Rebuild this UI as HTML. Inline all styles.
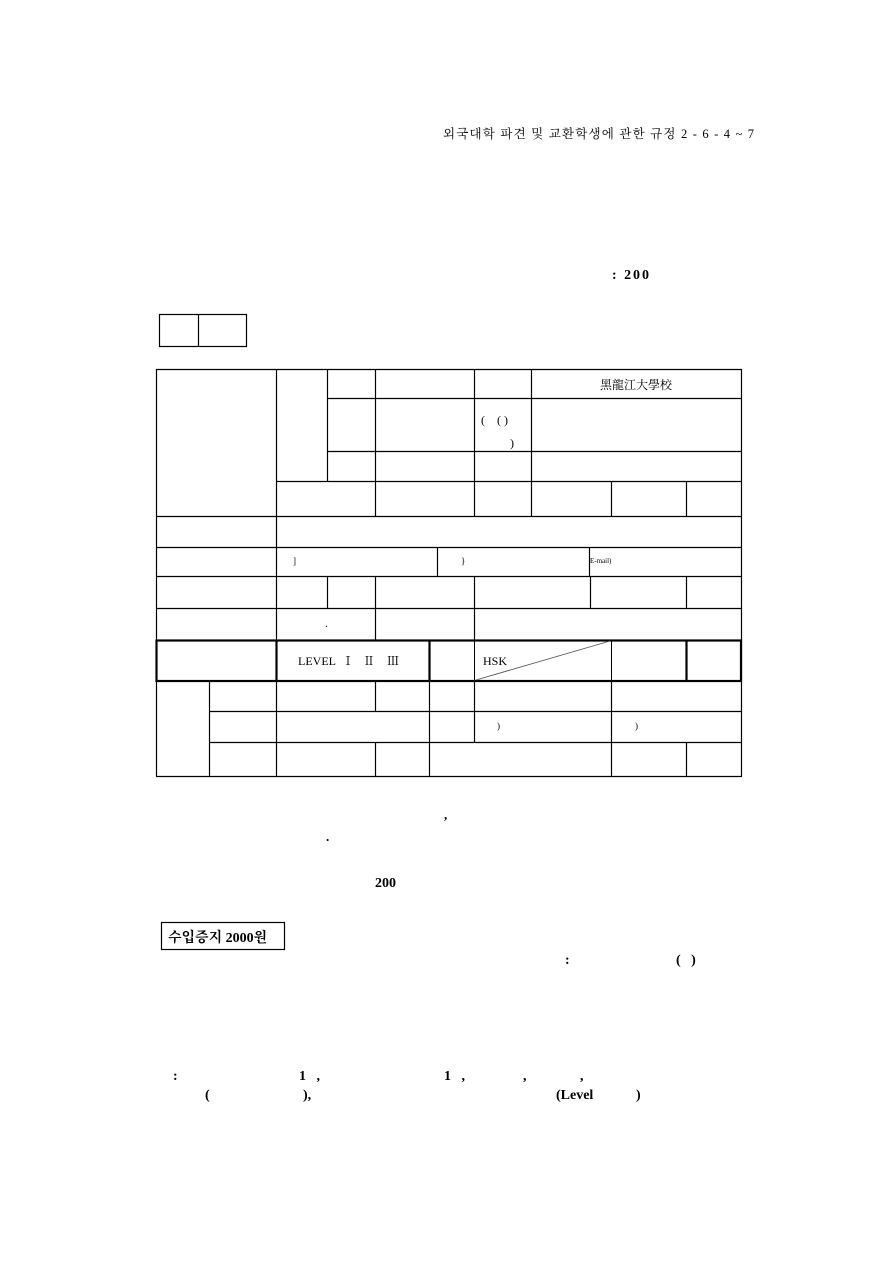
<!DOCTYPE html>
<html><head><meta charset="utf-8"><style>
html,body{margin:0;padding:0;background:#fff;}
svg{display:block;}
text{font-family:"Liberation Serif","Noto Serif CJK SC","Noto Sans CJK KR",serif;fill:#000;}
</style></head><body>
<svg width="893" height="1263" viewBox="0 0 893 1263" xmlns="http://www.w3.org/2000/svg">
<text x="443" y="138" font-size="12.5" textLength="311" lengthAdjust="spacing" font-family="'Liberation Serif','Noto Serif CJK SC',serif">외국대학 파견 및 교환학생에 관한 규정 2 - 6 - 4 ~ 7</text>
<text x="612" y="279" font-size="14" font-weight="bold" textLength="37" lengthAdjust="spacing">: 200</text>
<g stroke="#000" stroke-width="1.2" fill="none">
<rect x="159.5" y="314.5" width="87" height="32"/>
<line x1="198.5" y1="314" x2="198.5" y2="347"/>
</g>
<g stroke="#000" stroke-width="1.2" fill="none">
<line x1="156.5" y1="369" x2="156.5" y2="776"/>
<line x1="741.5" y1="369" x2="741.5" y2="776"/>
<line x1="156" y1="369.5" x2="742" y2="369.5"/>
<line x1="327" y1="398.5" x2="742" y2="398.5"/>
<line x1="327" y1="451.5" x2="742" y2="451.5"/>
<line x1="276" y1="481.5" x2="742" y2="481.5"/>
<line x1="156" y1="516.5" x2="742" y2="516.5"/>
<line x1="156" y1="547.5" x2="742" y2="547.5"/>
<line x1="156" y1="576.5" x2="742" y2="576.5"/>
<line x1="156" y1="608.5" x2="742" y2="608.5"/>
<line x1="209" y1="711.5" x2="742" y2="711.5"/>
<line x1="209" y1="742.5" x2="742" y2="742.5"/>
<line x1="156" y1="776.5" x2="742" y2="776.5"/>
<line x1="276.5" y1="369" x2="276.5" y2="640"/>
<line x1="327.5" y1="369" x2="327.5" y2="481"/>
<line x1="375.5" y1="369" x2="375.5" y2="516"/>
<line x1="474.5" y1="369" x2="474.5" y2="516"/>
<line x1="531.5" y1="369" x2="531.5" y2="516"/>
<line x1="611.5" y1="481" x2="611.5" y2="516"/>
<line x1="686.5" y1="481" x2="686.5" y2="516"/>
<line x1="437.5" y1="547" x2="437.5" y2="576"/>
<line x1="589.5" y1="547" x2="589.5" y2="576"/>
<line x1="327.5" y1="576" x2="327.5" y2="608"/>
<line x1="375.5" y1="576" x2="375.5" y2="640"/>
<line x1="474.5" y1="576" x2="474.5" y2="640"/>
<line x1="590.5" y1="576" x2="590.5" y2="608"/>
<line x1="686.5" y1="576" x2="686.5" y2="608"/>
<line x1="209.5" y1="681" x2="209.5" y2="776"/>
<line x1="276.5" y1="681" x2="276.5" y2="776"/>
<line x1="375.5" y1="681" x2="375.5" y2="711"/>
<line x1="375.5" y1="742" x2="375.5" y2="776"/>
<line x1="429.5" y1="681" x2="429.5" y2="776"/>
<line x1="474.5" y1="681" x2="474.5" y2="742"/>
<line x1="611.5" y1="681" x2="611.5" y2="776"/>
<line x1="686.5" y1="742" x2="686.5" y2="776"/>
</g>
<g stroke="#000" stroke-width="2.2" fill="none">
<rect x="156.5" y="640.5" width="584.5" height="40.5"/>
<line x1="276.5" y1="640" x2="276.5" y2="681"/>
<line x1="429.5" y1="640" x2="429.5" y2="681"/>
<line x1="686.5" y1="640" x2="686.5" y2="681"/>
</g>
<g stroke="#000" stroke-width="1" fill="none">
<line x1="474.5" y1="640" x2="474.5" y2="681"/>
<line x1="611.5" y1="640" x2="611.5" y2="681"/>
</g>
<line x1="476" y1="680" x2="610" y2="641" stroke="#555" stroke-width="0.9"/>
<text x="636" y="389" font-size="12" text-anchor="middle" font-family="'Noto Sans CJK TC',sans-serif">黑龍江大學校</text>
<text x="481" y="424" font-size="12">(&#160;&#160;&#160;&#160;( )</text>
<text x="510" y="447" font-size="12">)</text>
<text x="293" y="564" font-size="9">]</text>
<text x="461" y="564" font-size="9">}</text>
<text x="590" y="563" font-size="7">E-mail)</text>
<text x="325" y="627" font-size="12">.</text>
<text x="298" y="665" font-size="12">LEVEL&#160;&#160;Ⅰ&#160;&#160;&#160;Ⅱ&#160;&#160;&#160;&#160;Ⅲ</text>
<text x="483" y="665" font-size="12">HSK</text>
<text x="497" y="729" font-size="9">)</text>
<text x="635" y="729" font-size="9">)</text>
<text x="444" y="819" font-size="13" font-weight="bold">,</text>
<text x="326" y="841" font-size="13" font-weight="bold">.</text>
<text x="375" y="887" font-size="14" font-weight="bold">200</text>
<rect x="161.5" y="922.5" width="123" height="27" fill="none" stroke="#000" stroke-width="1.2"/>
<text x="168" y="942" font-size="14" font-weight="bold" font-family="'Noto Serif CJK SC','Noto Sans CJK KR',serif">수입증지 2000원</text>
<text x="565" y="964" font-size="14" font-weight="bold">:</text>
<text x="676" y="964" font-size="14" font-weight="bold">(&#160;&#160;&#160;)</text>
<g font-size="14" font-weight="bold">
<text x="173" y="1080">:</text>
<text x="299" y="1080">1&#160;&#160;&#160;,</text>
<text x="444" y="1080">1&#160;&#160;&#160;,</text>
<text x="523" y="1080">,</text>
<text x="580" y="1080">,</text>
<text x="205" y="1099">(</text>
<text x="303" y="1099">),</text>
<text x="556" y="1099">(Level</text>
<text x="636" y="1099">)</text>
</g>
</svg>
</body></html>
